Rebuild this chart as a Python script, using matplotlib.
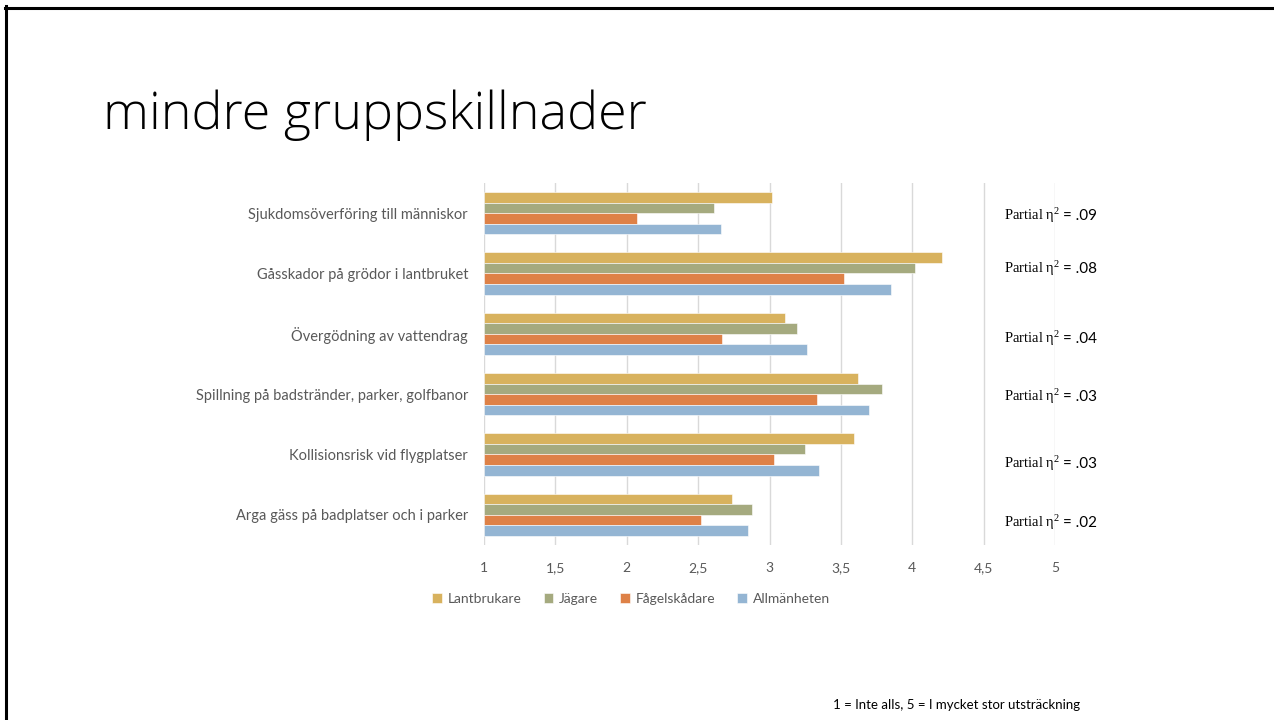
import numpy as np
import matplotlib.pyplot as plt
from matplotlib.lines import Line2D

# Daten
kategorier = [
    "Sjukdomsöverföring till människor",
    "Gåsskador på grödor i lantbruket",
    "Övergödning av vattendrag",
    "Spillning på badstränder, parker, golfbanor",
    "Kollisionsrisk vid flygplatser",
    "Arga gäss på badplatser och i parker",
]
grupper = ["Lantbrukare", "Jägare", "Fågelskådare", "Allmänheten"]
lantbrukare = [3.02, 4.21, 3.11, 3.62, 3.59, 2.74]
jagare = [2.61, 4.02, 3.19, 3.79, 3.25, 2.88]
fagelskadare = [2.07, 3.52, 2.67, 3.33, 3.03, 2.52]
allmanheten = [2.66, 3.85, 3.26, 3.70, 3.35, 2.85]
eta_varden = [".09", ".08", ".04", ".03", ".03", ".02"]
x_ticks = [1, 1.5, 2, 2.5, 3, 3.5, 4, 4.5, 5]
x_ticklabels = ["1", "1,5", "2", "2,5", "3", "3,5", "4", "4,5", "5"]

farger = ["#D8B25E", "#A5AA7F", "#DE8147", "#94B5D3"]
serier = [lantbrukare, jagare, fagelskadare, allmanheten]

plt.rcParams["mathtext.fontset"] = "custom"
plt.rcParams["mathtext.rm"] = "Liberation Serif"
plt.rcParams["mathtext.it"] = "Liberation Serif"

W, H = 1274, 720
fig = plt.figure(figsize=(W / 100, H / 100), dpi=100)

# Rahmen der Folie (oben und links)
fig.add_artist(Line2D([5 / W, 1], [1 - 7.5 / H, 1 - 7.5 / H], color="black", lw=2.2))
fig.add_artist(Line2D([6.5 / W, 6.5 / W], [0, 1 - 6 / H], color="black", lw=2.2))

# Titel
fig.text(103 / W, 1 - 115 / H, "mindre gruppskillnader", fontsize=37.5,
         family="Open Sans", fontweight="light", va="center", ha="left")

# Diagramm
ax = fig.add_axes([484 / W, 1 - 545 / H, (1055 - 484) / W, (545 - 183) / H])
n = len(kategorier)
y = np.arange(n)
bh = 0.175
for i, (werte, farbe, name) in enumerate(zip(serier, farger, grupper)):
    ax.barh(y + (i - 1.5) * bh, np.array(werte) - 1, left=1, height=bh,
            color=farbe, label=name, edgecolor="white", linewidth=0.4)

ax.set_xlim(1, 5)
ax.set_ylim(n - 0.5, -0.5)
ax.set_xticks(x_ticks)
ax.set_xticklabels(x_ticklabels)
ax.set_yticks(y)
ax.set_yticklabels(kategorier)
ax.tick_params(axis="both", length=0, colors="#595959", labelsize=10)
ax.tick_params(axis="y", labelsize=10.5)
ax.tick_params(axis="x", pad=12)
ax.tick_params(axis="y", pad=11.5)
for lbl in ax.get_xticklabels() + ax.get_yticklabels():
    lbl.set_family("Lato")
ax.grid(axis="x", color="#D9D9D9", lw=1)
ax.set_axisbelow(True)
for s in ax.spines.values():
    s.set_visible(False)

# Legende
leg = fig.legend(loc="center", bbox_to_anchor=(631 / W, 1 - 599 / H), ncol=4,
                 frameon=False, handlelength=0.7, handleheight=0.7,
                 handletextpad=0.4, columnspacing=1.6,
                 prop={"family": "Lato", "size": 10})
for t in leg.get_texts():
    t.set_color("#595959")

# Partial eta^2
eta_y = [216, 269, 339, 397, 464, 523]
for yy, v in zip(eta_y, eta_varden):
    fig.text(1004 / W, 1 - yy / H, r"Partial $\mathrm{\eta}^{2}$", family="Liberation Serif",
             fontsize=10.5, va="center", ha="left")
    fig.text(1063 / W, 1 - yy / H, "= " + v, family="Lato",
             fontsize=11, va="center", ha="left")

# Fußnote
fig.text(957 / W, 1 - 705 / H, "1 = Inte alls, 5 = I mycket stor utsträckning",
         family="Lato", fontsize=9.5, ha="center", va="center")

fig.savefig("out.png", dpi=100)
